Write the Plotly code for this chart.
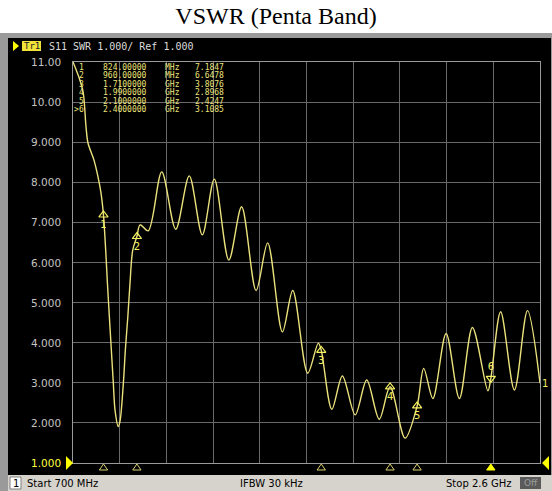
import plotly.graph_objects as go

# ---------------- data ----------------
freq_mhz = [700, 728, 742, 753, 761, 785, 802, 814, 824, 833, 840, 848, 856, 864, 871, 884,
            891, 905, 913, 923, 932, 943, 960, 973, 1006, 1061, 1118, 1173, 1226, 1275,
            1334, 1386, 1445, 1492, 1552, 1594, 1655, 1698, 1710, 1753, 1796, 1848, 1895,
            1946, 1990, 2051, 2100, 2127, 2164, 2218, 2272, 2325, 2388, 2400, 2440, 2496,
            2549, 2600]
vswr = [11.0, 10.55, 10.22, 9.38, 8.98, 8.56, 8.13, 7.73, 7.18, 6.31, 5.49, 4.64, 3.82, 3.00, 2.32, 1.91,
        2.03, 3.00, 3.82, 4.64, 5.49, 6.31, 6.65, 6.94, 6.79, 8.26, 6.83, 8.16, 6.69, 8.08,
        6.06, 7.39, 5.30, 6.49, 4.27, 5.30, 3.24, 3.99, 3.81, 2.34, 3.17, 2.20, 3.07,
        2.09, 2.90, 1.62, 2.42, 3.36, 2.61, 4.23, 2.61, 4.38, 2.80, 3.11, 4.77, 2.82,
        4.80, 2.99]

marker_ids = ["1", "2", "3", "4", "5", "6"]
marker_freq = [824, 960, 1710, 1990, 2100, 2400]
marker_vswr = [7.1847, 6.6478, 3.8076, 2.8968, 2.4247, 3.1085]
marker_freq_text = ["824.00000", "960.00000", "1.7100000", "1.9900000", "2.1000000", "2.4000000"]
marker_unit = ["MHz", "MHz", "GHz", "GHz", "GHz", "GHz"]
marker_val_text = ["7.1847", "6.6478", "3.8076", "2.8968", "2.4247", "3.1085"]

y_ticks = [1, 2, 3, 4, 5, 6, 7, 8, 9, 10, 11]
y_tick_labels = ["1.000", "2.000", "3.000", "4.000", "5.000", "6.000", "7.000", "8.000", "9.000", "10.00", "11.00"]

# ---------------- geometry helpers ----------------
W, H = 552, 491
L, R, T, B = 73, 540, 62, 463


def px(xp):
    return (xp - L) / (R - L)


def py(yp):
    return (B - yp) / (B - T)


TRACE = "#ece27c"
YEL = "#f4f060"
TABLE = "#ece47a"
GRID = "#6a6a6a"
NBSP = "\u00a0"

fig = go.Figure()

# main trace
fig.add_trace(go.Scatter(x=freq_mhz, y=vswr, mode="lines",
                         line=dict(color=TRACE, width=1.4, shape="spline", smoothing=0.9),
                         hoverinfo="skip", showlegend=False))

# markers on trace (1..5 up triangles, number below)
fig.add_trace(go.Scatter(x=marker_freq[:5], y=marker_vswr[:5], mode="markers+text",
                         marker=dict(symbol="triangle-up-open", size=8, color=YEL, line=dict(width=1.2)),
                         text=marker_ids[:5], textposition="bottom center",
                         textfont=dict(color=YEL, size=10, family="DejaVu Sans"),
                         showlegend=False, hoverinfo="skip"))
# active marker 6 (down triangle, number above)
fig.add_trace(go.Scatter(x=marker_freq[5:], y=marker_vswr[5:], mode="markers+text",
                         marker=dict(symbol="triangle-down-open", size=8, color=YEL, line=dict(width=1.2)),
                         text=marker_ids[5:], textposition="top center",
                         textfont=dict(color=YEL, size=10, family="DejaVu Sans"),
                         showlegend=False, hoverinfo="skip"))

shapes = []
# screenshot frame
shapes.append(dict(type="rect", xref="paper", yref="paper", x0=px(0), x1=px(552), y0=py(491), y1=py(33),
                   fillcolor="#9a9a9a", line=dict(width=0), layer="below"))
shapes.append(dict(type="rect", xref="paper", yref="paper", x0=px(8), x1=px(551), y0=py(475), y1=py(38),
                   fillcolor="#000000", line=dict(width=0), layer="below"))
# status bar
shapes.append(dict(type="rect", xref="paper", yref="paper", x0=px(8), x1=px(552), y0=py(491), y1=py(475),
                   fillcolor="#d6d3cc", line=dict(width=0), layer="below"))
shapes.append(dict(type="rect", xref="paper", yref="paper", x0=px(10), x1=px(21), y0=py(489), y1=py(477),
                   fillcolor="#ffffff", line=dict(width=1, color="#808080"), layer="below"))
shapes.append(dict(type="rect", xref="paper", yref="paper", x0=px(520), x1=px(541), y0=py(489), y1=py(477),
                   fillcolor="#5a5a5a", line=dict(width=0), layer="below"))
# Tr1 label box
shapes.append(dict(type="rect", xref="paper", yref="paper", x0=px(22), x1=px(41), y0=py(51), y1=py(41),
                   fillcolor="#f2e23a", line=dict(width=0), layer="below"))
# small triangles (header, reference level)
shapes.append(dict(type="path", xref="paper", yref="paper",
                   path=f"M {px(13)},{py(41)} L {px(19)},{py(46)} L {px(13)},{py(51)} Z",
                   fillcolor="#ffff00", line=dict(width=0), layer="above"))
shapes.append(dict(type="path", xref="paper", yref="paper",
                   path=f"M {px(66)},{py(456)} L {px(73)},{py(463)} L {px(66)},{py(470)} Z",
                   fillcolor="#ffff00", line=dict(width=0), layer="above"))
shapes.append(dict(type="path", xref="paper", yref="paper",
                   path=f"M {px(549)},{py(456)} L {px(542)},{py(463)} L {px(549)},{py(470)} Z",
                   fillcolor="#ffff00", line=dict(width=0), layer="above"))
# marker position indicators below the graticule (x from marker data through the x scale)
HALF = 17  # half-width of indicator triangle, in MHz
for i, f in enumerate(marker_freq):
    active = (i == len(marker_freq) - 1)
    shapes.append(dict(type="path", xref="x", yref="paper",
                       path=f"M {f - HALF},{py(470)} L {f + HALF},{py(470)} L {f},{py(464)} Z",
                       fillcolor="#ffff00" if active else "rgba(0,0,0,0)",
                       line=dict(width=1, color="#ffff00" if active else "#d8d070"), layer="above"))

annotations = []
# y tick labels
for v, lab in zip(y_ticks, y_tick_labels):
    annotations.append(dict(xref="paper", yref="y", x=px(63), y=v, text=lab, showarrow=False,
                            xanchor="right", yanchor="middle",
                            font=dict(family="DejaVu Sans", size=10.5,
                                      color="#ffff40" if v == 1 else "#c4c4c4")))
# header text
annotations.append(dict(xref="paper", yref="paper", x=px(31.5), y=py(46), text="Tr1", showarrow=False,
                        xanchor="center", yanchor="middle",
                        font=dict(family="DejaVu Sans Mono", size=9, color="#202020")))
annotations.append(dict(xref="paper", yref="paper", x=px(47), y=py(46),
                        text="S11 SWR 1.000/ Ref 1.000".replace(" ", NBSP), showarrow=False,
                        xanchor="left", yanchor="middle",
                        font=dict(family="DejaVu Sans Mono", size=10, color="#dcdcdc")))
# marker table (columns at their own positions)
row_y = [67, 75.5, 84, 92.5, 101, 109.5]
tfont = dict(family="DejaVu Sans Mono", size=8, color=TABLE)
for i in range(6):
    for xpos, txt, anc in ((86, marker_ids[i], "right"), (101, marker_freq_text[i], "left"),
                           (163, marker_unit[i], "left"), (193, marker_val_text[i], "left")):
        annotations.append(dict(xref="paper", yref="paper", x=px(xpos), y=py(row_y[i]), text=txt,
                                showarrow=False, xanchor=anc, yanchor="middle", font=tfont))
annotations.append(dict(xref="paper", yref="paper", x=px(81), y=py(row_y[5]), text=">",
                        showarrow=False, xanchor="right", yanchor="middle", font=tfont))
# trace end label
annotations.append(dict(x=freq_mhz[-1], y=vswr[-1], text="1", showarrow=False, xanchor="left",
                        yanchor="middle", xshift=0,
                        font=dict(family="DejaVu Sans", size=10, color=YEL)))
# status bar
sfont = dict(family="DejaVu Sans", size=10, color="#000000")
annotations.append(dict(xref="paper", yref="paper", x=px(15.5), y=py(483), text="1", showarrow=False,
                        xanchor="center", yanchor="middle", font=sfont))
annotations.append(dict(xref="paper", yref="paper", x=px(25), y=py(483), text="Start 700 MHz",
                        showarrow=False, xanchor="left", yanchor="middle", font=sfont))
annotations.append(dict(xref="paper", yref="paper", x=px(271), y=py(483), text="IFBW 30 kHz",
                        showarrow=False, xanchor="center", yanchor="middle", font=sfont))
annotations.append(dict(xref="paper", yref="paper", x=px(514), y=py(483), text="Stop 2.6 GHz",
                        showarrow=False, xanchor="right", yanchor="middle", font=sfont))
annotations.append(dict(xref="paper", yref="paper", x=px(530.5), y=py(483), text="Off",
                        showarrow=False, xanchor="center", yanchor="middle",
                        font=dict(family="DejaVu Sans", size=9, color="#9a9a9a")))

fig.update_layout(
    width=W, height=H,
    margin=dict(l=L, r=W - R, t=T, b=H - B, pad=0),
    paper_bgcolor="#ffffff", plot_bgcolor="#000000",
    title=dict(text="VSWR (Penta Band)", x=0.5, xanchor="center", y=1 - 16 / H, yanchor="middle",
               font=dict(family="Liberation Serif", size=24, color="#000000")),
    shapes=shapes, annotations=annotations,
    xaxis=dict(range=[700, 2600], tick0=700, dtick=190, showticklabels=False, ticks="",
               showgrid=True, gridcolor=GRID, gridwidth=1, zeroline=False,
               showline=True, linecolor="#9a9a9a", linewidth=1, mirror=True, fixedrange=True),
    yaxis=dict(range=[1, 11], tick0=1, dtick=1, showticklabels=False, ticks="",
               showgrid=True, gridcolor=GRID, gridwidth=1, zeroline=False,
               showline=True, linecolor="#9a9a9a", linewidth=1, mirror=True, fixedrange=True),
    showlegend=False,
)

fig.write_html("out.html", config={"displayModeBar": False},
               post_script="document.body.style.margin='0';document.body.style.overflow='hidden';")
